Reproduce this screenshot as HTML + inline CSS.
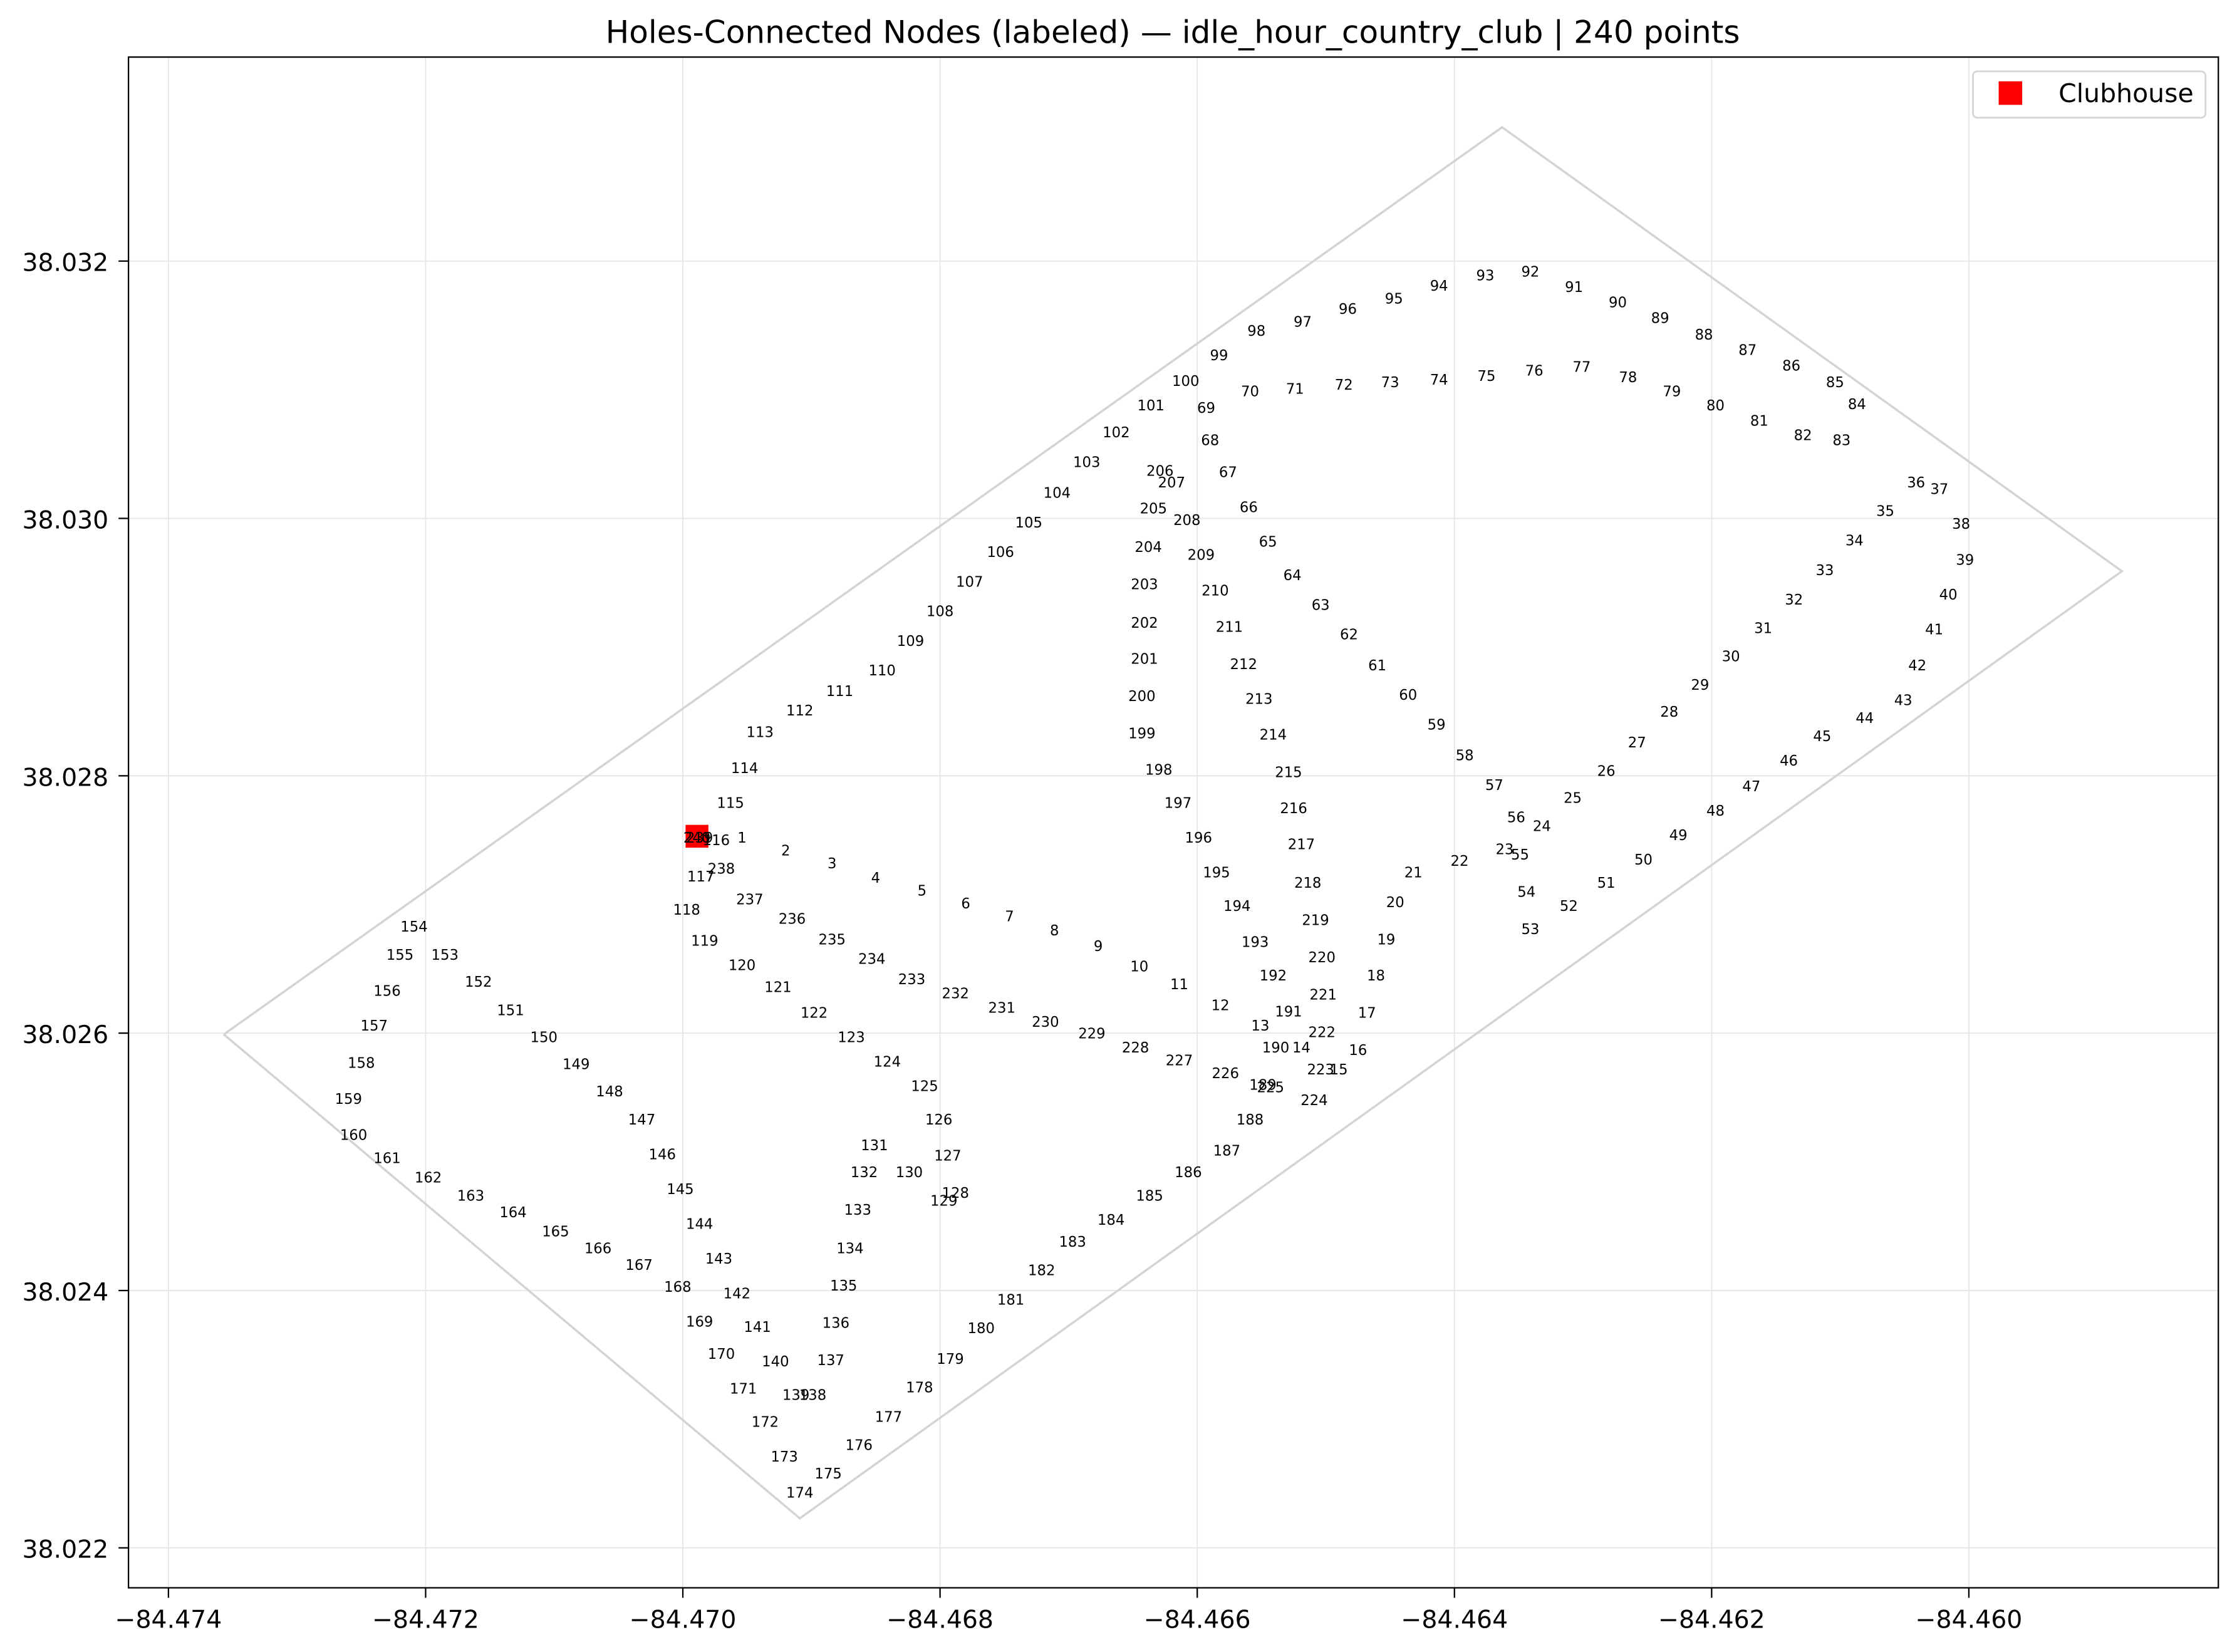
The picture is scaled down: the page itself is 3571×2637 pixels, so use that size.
<!DOCTYPE html>
<html><head><meta charset="utf-8"><style>
html,body{margin:0;padding:0;background:#fff;}
svg{display:block;}
text{font-family:"DejaVu Sans","Liberation Sans",sans-serif;}
</style></head><body>
<svg id="chart" xmlns="http://www.w3.org/2000/svg" width="3571" height="2637" viewBox="0 0 1568 1158">
<rect x="0" y="0" width="1568" height="1158" fill="#fff"/>
<text x="822" y="30" font-size="22" text-anchor="middle">Holes-Connected Nodes (labeled) — idle_hour_country_club | 240 points</text>
<g id="grid"></g>
<g id="boundary"></g>
<g id="club"></g>
<g id="labels"></g>
<rect x="90" y="40" width="1465" height="1073" fill="none" stroke="#000" stroke-width="1"/>
<g id="xticks"></g>
<g id="yticks"></g>
<g>
<rect x="1383" y="50" width="163" height="32.5" rx="3" fill="#fff" stroke="#d5d5d5" stroke-width="1.2"/>
<rect x="1401" y="57" width="16.5" height="16.5" fill="#ff0000"/>
<text x="1443" y="71.5" font-size="18">Clubhouse</text>
</g>
</svg>
<script>
// Longitude / latitude stored as offsets in units of 1e-5 degrees from (-84.474, 38.022)
const lonBase = -84.474;
const latBase = 38.022;
const xTickValues = [-84.474,-84.472,-84.470,-84.468,-84.466,-84.464,-84.462,-84.460];
const xTickLabels = ["\u221284.474","\u221284.472","\u221284.470","\u221284.468","\u221284.466","\u221284.464","\u221284.462","\u221284.460"];
const yTickValues = [38.022,38.024,38.026,38.028,38.030,38.032];
const yTickLabels = ["38.022","38.024","38.026","38.028","38.030","38.032"];
const nodeLonOff = [446,480,516,550,586,620,654,689,723,755,786,818,849,881,910,925,932,939,947,954,968,1004,1039,1068,1092,1118,1142,1167,1191,1215,1240,1264,1288,1311,1335,1359,1377,1394,1397,1384,1373,1360,1349,1319,1286,1260,1231,1203,1174,1147,1118,1089,1059,1056,1051,1048,1031,1008,986,964,940,918,896,874,855,840,824,810,807,841,876,914,950,988,1025,1062,1099,1135,1169,1203,1237,1271,1301,1313,1296,1262,1228,1194,1160,1127,1093,1059,1024,988,953,917,882,846,817,791,764,737,714,691,669,647,623,600,577,555,522,491,460,448,437,426,414,403,417,446,474,502,531,559,588,599,606,612,603,576,549,541,536,530,525,519,515,501,488,472,458,442,428,413,398,384,368,343,317,292,266,241,215,191,180,170,160,150,140,144,170,202,235,268,301,334,366,396,413,430,447,464,479,491,513,537,560,584,608,632,655,679,703,733,763,793,823,841,851,861,871,859,845,831,815,801,785,770,757,757,759,759,759,762,766,771,780,792,803,814,825,836,848,859,871,875,881,886,892,897,898,897,896,891,857,822,786,752,718,682,648,612,578,547,516,485,452,430,413,411];
const nodeLatOff = [552,542,532,521,511,501,491,480,468,452,438,422,406,389,372,387,416,445,473,502,525,534,543,561,583,604,626,650,671,693,715,737,760,783,806,828,823,796,768,741,714,686,659,645,631,612,592,573,554,535,517,499,481,510,539,568,593,616,640,663,686,710,733,756,782,809,836,861,886,899,901,904,906,908,911,915,918,910,899,888,876,865,861,889,906,919,931,943,956,968,980,992,989,981,971,963,953,946,927,907,888,867,844,820,797,774,751,728,705,682,666,651,634,606,579,550,522,496,472,453,436,416,397,378,359,333,305,276,270,292,313,292,263,233,204,175,146,119,119,145,172,198,225,252,279,306,333,355,376,397,418,440,461,483,461,433,406,377,349,321,303,288,274,261,246,233,220,203,176,151,124,98,71,43,58,80,102,125,147,171,193,216,238,255,274,292,309,333,360,389,417,445,471,499,525,552,579,605,633,662,691,719,749,778,808,837,828,799,772,744,716,687,660,632,603,575,547,517,488,459,430,401,372,348,358,369,379,389,400,409,420,431,442,458,473,489,504,528,552,552];
const boundaryLonOff = [43,491,1519,1037,43];
const boundaryLatOff = [399,23,759,1104,399];
const clubLonOff = [411];
const clubLatOff = [553];

const NS = "http://www.w3.org/2000/svg";
function xScale(lon){ return 118 + (lon - (-84.474)) / 0.002 * 180.3; }
function yScale(lat){ return 1085 - (lat - 38.022) / 0.002 * 180.4; }
function lonOf(o){ return lonBase + o * 1e-5; }
function latOf(o){ return latBase + o * 1e-5; }
function mk(tag, attrs, parent){
  const e = document.createElementNS(NS, tag);
  for (const k in attrs) e.setAttribute(k, attrs[k]);
  parent.appendChild(e);
  return e;
}
const grid = document.getElementById('grid');
const xt = document.getElementById('xticks');
const yt = document.getElementById('yticks');
xTickValues.forEach((v,i)=>{
  const x = xScale(v);
  const g = mk('line',{x1:x,x2:x,y1:40,y2:1113,stroke:'#e6e6e6','stroke-width':0.8},grid);
  
  
  const t = mk('line',{x1:x,x2:x,y1:1113,y2:1120,stroke:'#000','stroke-width':1},xt);
  
  
  const l = mk('text',{x:x,y:1141,'font-size':17.3,'text-anchor':'middle'},xt);
  l.textContent = xTickLabels[i];
  
  
});
yTickValues.forEach((v,i)=>{
  const y = yScale(v);
  const g = mk('line',{x1:90,x2:1555,y1:y,y2:y,stroke:'#e6e6e6','stroke-width':0.8},grid);
  
  
  const t = mk('line',{x1:83,x2:90,y1:y,y2:y,stroke:'#000','stroke-width':1},yt);
  
  
  const l = mk('text',{x:76,y:y+7,'font-size':17.3,'text-anchor':'end'},yt);
  l.textContent = yTickLabels[i];
  
  
});
const pts = boundaryLonOff.map((o,i)=> xScale(lonOf(o)).toFixed(1)+','+yScale(latOf(boundaryLatOff[i])).toFixed(1)).join(' ');
const poly = mk('polyline',{points:pts,fill:'none',stroke:'#d3d3d3','stroke-width':1.5},document.getElementById('boundary'));


const lab = document.getElementById('labels');
nodeLonOff.forEach((o,i)=>{
  const t = mk('text',{x:xScale(lonOf(o)).toFixed(1),y:(yScale(latOf(nodeLatOff[i]))+3.6).toFixed(1),'font-size':10,'text-anchor':'middle'},lab);
  t.textContent = String(i+1);
  
  
});
clubLonOff.forEach((o,i)=>{
  const cx = xScale(lonOf(o)), cy = yScale(latOf(clubLatOff[i]));
  const r = mk('rect',{x:cx-8,y:cy-8,width:16,height:16,fill:'#ff0000'},document.getElementById('club'));
  
  
});
</script>
</body></html>
